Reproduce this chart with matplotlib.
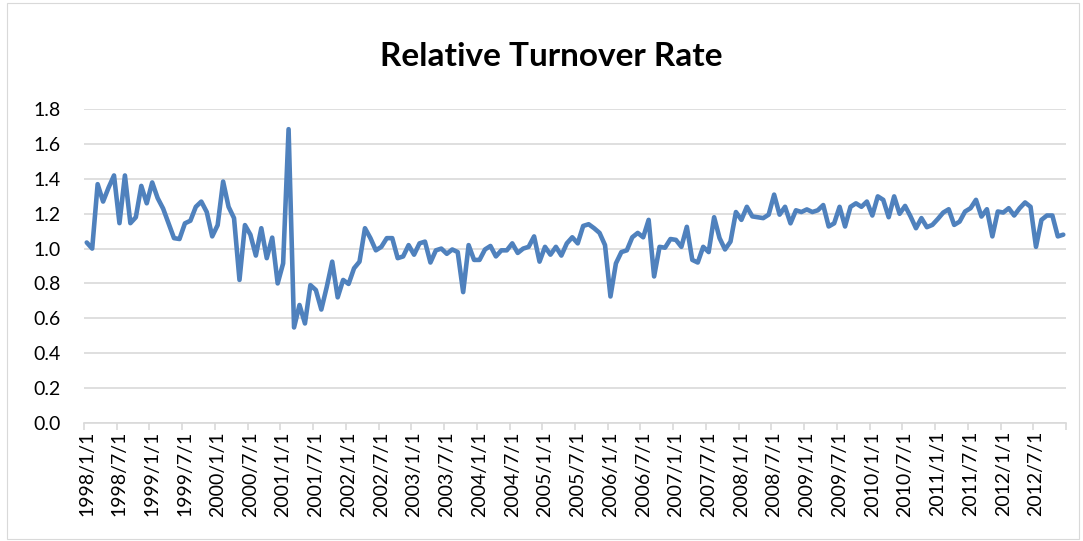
import matplotlib
matplotlib.use("Agg")
import matplotlib.pyplot as plt
from matplotlib.patches import Rectangle
import numpy as np

plt.rcParams['font.family'] = ['Lato', 'DejaVu Sans']

title = "Relative Turnover Rate"
start_year = 1998
n_months = 180
values = [
    1.035, 1.00, 1.37, 1.27, 1.35, 1.42, 1.146, 1.42, 1.146, 1.18,
    1.36, 1.26, 1.38, 1.29, 1.23, 1.145, 1.06, 1.055, 1.145, 1.16,
    1.24, 1.27, 1.21, 1.07, 1.135, 1.385, 1.24, 1.175, 0.82, 1.135,
    1.08, 0.96, 1.117, 0.945, 1.063, 0.80, 0.915, 1.686, 0.547, 0.676,
    0.57, 0.79, 0.762, 0.65, 0.78, 0.925, 0.72, 0.82, 0.797, 0.887,
    0.925, 1.117, 1.06, 0.99, 1.01, 1.06, 1.06, 0.945, 0.955, 1.02,
    0.965, 1.03, 1.04, 0.92, 0.99, 1.00, 0.97, 0.995, 0.98, 0.75,
    1.02, 0.935, 0.935, 0.995, 1.015, 0.955, 0.99, 0.99, 1.03, 0.975,
    1.00, 1.01, 1.07, 0.925, 1.01, 0.965, 1.01, 0.96, 1.03, 1.065,
    1.03, 1.13, 1.14, 1.117, 1.09, 1.02, 0.725, 0.915, 0.98, 0.99,
    1.065, 1.09, 1.065, 1.165, 0.84, 1.01, 1.005, 1.055, 1.05, 1.01,
    1.125, 0.935, 0.92, 1.01, 0.98, 1.18, 1.06, 0.995, 1.04, 1.21,
    1.165, 1.24, 1.185, 1.18, 1.175, 1.195, 1.31, 1.195, 1.24, 1.145,
    1.22, 1.21, 1.225, 1.21, 1.22, 1.25, 1.127, 1.145, 1.24, 1.127,
    1.24, 1.26, 1.24, 1.27, 1.19, 1.30, 1.28, 1.18, 1.30, 1.20,
    1.245, 1.185, 1.117, 1.175, 1.123, 1.136, 1.17, 1.207, 1.226, 1.136,
    1.155, 1.213, 1.232, 1.28, 1.184, 1.226, 1.07, 1.213, 1.207, 1.232,
    1.19, 1.232, 1.265, 1.24, 1.01, 1.165, 1.19, 1.19, 1.07, 1.08,
]
label_step = 6
y_ticks = [0.0, 0.2, 0.4, 0.6, 0.8, 1.0, 1.2, 1.4, 1.6, 1.8]

month_labels = [f"{start_year + m // 12}/{m % 12 + 1}/1" for m in range(n_months)]

W, H = 1083, 541
fig = plt.figure(figsize=(W / 100, H / 100), dpi=100)
fig.patch.set_facecolor("white")
fig.add_artist(Rectangle((7 / W, 2 / H), 1072 / W, 536 / H, transform=fig.transFigure,
                         fill=False, edgecolor="#d9d9d9", linewidth=0.8))

ax = fig.add_axes([84 / W, (H - 422.7) / H, (1066 - 84) / W, (422.7 - 109.3) / H])
x = np.arange(len(values)) + 0.5
ax.plot(x, values, color="#4f81bd", linewidth=3.3, solid_joinstyle="round",
        solid_capstyle="round", clip_on=False, zorder=3)

ax.set_xlim(0, n_months)
ax.set_ylim(0, 1.8)
ax.set_yticks(y_ticks)
ax.set_yticklabels([f"{v:.1f}" for v in y_ticks])
ax.yaxis.grid(True, color="#d9d9d9", linewidth=1.2)
ax.set_axisbelow(True)

ax.set_xticks(np.arange(0, n_months + 1, label_step))
ax.set_xticklabels([])
ax.set_xticks(np.arange(0, n_months, label_step) + 0.5, minor=True)
ax.set_xticklabels([month_labels[i] for i in range(0, n_months, label_step)],
                   minor=True, rotation=90, fontsize=14, color="#000000")
ax.tick_params(axis="x", which="major", length=5, color="#d9d9d9", width=1.2)
ax.tick_params(axis="x", which="minor", length=0, pad=6)
ax.tick_params(axis="y", length=0, pad=17, labelsize=14, labelcolor="#000000")

for s in ["top", "right", "left"]:
    ax.spines[s].set_visible(False)
ax.spines["bottom"].set_color("#d9d9d9")
ax.spines["bottom"].set_linewidth(1.2)

fig.text(551 / W, 1 - 57 / H, title, ha="center", va="center", fontsize=24,
         fontweight="bold", color="#000000")

fig.savefig("out.png", dpi=100)
